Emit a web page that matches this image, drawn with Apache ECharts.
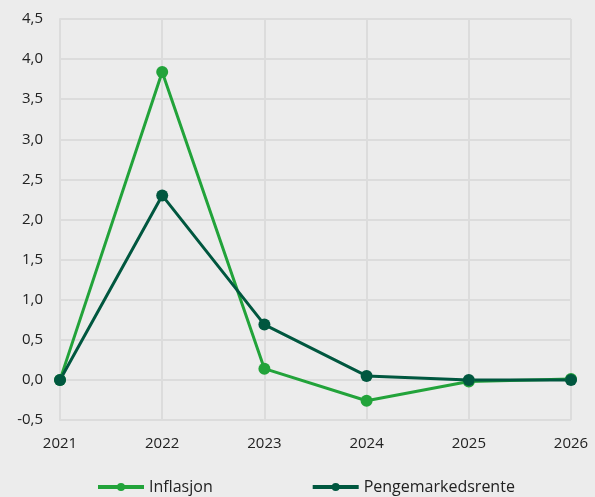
<!DOCTYPE html>
<html>
<head>
<meta charset="utf-8">
<script src="https://cdn.jsdelivr.net/npm/echarts@6/dist/echarts.min.js"></script>
<style>
  html, body { margin: 0; padding: 0; background: #ececec; }
  #chart { width: 595px; height: 497px; }
</style>
</head>
<body>
<div id="chart"></div>
<script>
// årstall og serier
var years = ['2021', '2022', '2023', '2024', '2025', '2026']
var inflasjon = [0, 3.84, 0.14, -0.26, -0.02, 0.01]
var pengemarkedsrente = [0, 2.3, 0.69, 0.05, 0.0, 0.0]

var myChart = echarts.init(document.getElementById('chart'))
var fmt = function (v) { return v.toFixed(1).replace('.', ',') }
var gridColor = '#dcdcdc'
var textColor = '#222'

var option = {
  backgroundColor: '#ececec',
  textStyle: { fontFamily: 'Open Sans' },
  grid: { left: 60, right: 24, top: 19, bottom: 77 },
  legend: {
    top: 474,
    left: 91,
    itemWidth: 46,
    itemHeight: 10,
    itemGap: 98,
    lineStyle: { width: 4 },
    textStyle: { fontSize: 16, color: textColor, fontFamily: 'Open Sans' },
    data: ['Inflasjon', 'Pengemarkedsrente']
  },
  xAxis: {
    type: 'category',
    data: years,
    boundaryGap: false,
    axisLine: { lineStyle: { color: gridColor, width: 2 } },
    axisTick: { show: false },
    axisLabel: { color: textColor, fontSize: 15, margin: 16 },
    splitLine: { show: true, lineStyle: { color: gridColor, width: 2 } }
  },
  yAxis: {
    type: 'value',
    min: -0.5,
    max: 4.5,
    interval: 0.5,
    axisLine: { show: true, lineStyle: { color: gridColor, width: 2 } },
    axisTick: { show: false },
    axisLabel: { color: textColor, fontSize: 15, margin: 17, formatter: fmt },
    splitLine: { show: true, lineStyle: { color: gridColor, width: 2 } }
  },
  series: [
    {
      name: 'Inflasjon',
      type: 'line',
      data: inflasjon,
      symbol: 'circle',
      symbolSize: 12,
      lineStyle: { color: '#22a33a', width: 3 },
      itemStyle: { color: '#22a33a' }
    },
    {
      name: 'Pengemarkedsrente',
      type: 'line',
      data: pengemarkedsrente,
      symbol: 'circle',
      symbolSize: 12,
      lineStyle: { color: '#00573f', width: 3 },
      itemStyle: { color: '#00573f' }
    }
  ]
}
myChart.setOption(option, true)
</script>
</body>
</html>
